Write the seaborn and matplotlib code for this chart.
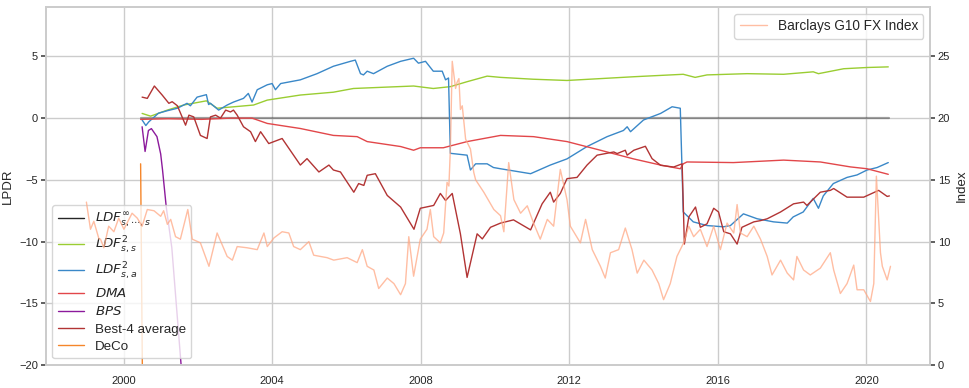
import seaborn as sns
import matplotlib.pyplot as plt

# LPDR series (decimal year, value)
ldf_inf_t = [2000.46, 2020.62]
ldf_inf = [0.0, 0.0]

ldf_ss_t = [2000.50, 2000.73, 2001.18, 2001.62, 2002.23, 2002.52, 2003.50, 2003.87, 2004.76,
            2005.65, 2006.19, 2006.99, 2007.81, 2008.34, 2008.80, 2009.25, 2009.79, 2010.15,
            2011.03, 2011.94, 2012.84, 2013.73, 2015.07, 2015.39, 2015.71, 2016.79, 2017.77,
            2018.57, 2018.71, 2019.39, 2020.02, 2020.59]
ldf_ss = [0.38, 0.16, 0.65, 1.06, 1.4, 0.8, 1.06, 1.46, 1.87,
          2.1, 2.4, 2.5, 2.6, 2.4, 2.55, 2.95, 3.4, 3.3,
          3.15, 3.05, 3.2, 3.35, 3.55, 3.3, 3.5, 3.6, 3.55,
          3.75, 3.6, 4.0, 4.1, 4.15]

ldf_sa_t = [2000.50, 2000.60, 2000.68, 2000.94, 2001.18, 2001.45, 2001.71, 2001.80, 2001.98,
            2002.23, 2002.29, 2002.34, 2002.56, 2002.79, 2002.96, 2003.23, 2003.36, 2003.46,
            2003.60, 2003.87, 2004.00, 2004.09, 2004.23, 2004.76, 2005.21, 2005.65, 2006.11,
            2006.24, 2006.38, 2006.46, 2006.56, 2006.73, 2007.10, 2007.46, 2007.81, 2007.94,
            2008.13, 2008.34, 2008.58, 2008.67, 2008.75, 2008.80, 2009.25, 2009.34, 2009.48,
            2009.79, 2009.96, 2010.15, 2010.96, 2011.49, 2011.94, 2012.48, 2013.02, 2013.46,
            2013.56, 2013.65, 2014.00, 2014.46, 2014.77, 2014.99, 2015.07, 2015.34, 2015.71,
            2016.15, 2016.34, 2016.69, 2017.06, 2017.50, 2017.87, 2018.03, 2018.30, 2018.57,
            2018.71, 2018.84, 2019.11, 2019.48, 2019.75, 2020.02, 2020.29, 2020.59]
ldf_sa = [-0.15, -0.6, -0.3, 0.4, 0.6, 0.8, 1.2, 1.0, 1.7,
          1.9, 1.1, 1.2, 0.65, 1.06, 1.3, 1.6, 2.0, 1.3,
          2.3, 2.7, 2.8, 2.3, 2.8, 3.1, 3.6, 4.2, 4.6,
          4.7, 3.6, 3.5, 3.8, 3.6, 4.2, 4.6, 4.85, 4.45,
          4.6, 3.8, 3.8, 3.1, 3.25, -2.85, -3.0, -4.2, -3.7,
          -3.7, -4.0, -4.1, -4.5, -3.8, -3.3, -2.3, -1.5, -1.0,
          -0.7, -1.1, -0.15, 0.38, 0.92, 0.8, -7.6, -8.4, -8.7,
          -8.8, -8.7, -7.75, -8.15, -8.4, -8.5, -8.0, -7.6, -6.5,
          -7.3, -6.3, -5.3, -4.8, -4.6, -4.2, -4.0, -3.6]

dma_t = [2000.46, 2001.20, 2002.10, 2002.90, 2003.46, 2003.87, 2004.76, 2005.65, 2006.29,
         2006.56, 2007.46, 2007.81, 2007.99, 2008.61, 2009.25, 2010.15, 2011.04, 2011.94,
         2012.84, 2013.73, 2014.46, 2014.99, 2015.07, 2015.17, 2016.42, 2017.77, 2018.76,
         2019.57, 2020.02, 2020.59]
dma = [-0.1, -0.05, -0.1, 0.0, 0.0, -0.43, -0.84, -1.4, -1.5,
       -1.9, -2.3, -2.6, -2.4, -2.4, -1.9, -1.4, -1.5, -1.9,
       -2.6, -3.3, -3.8, -4.1, -3.7, -3.55, -3.6, -3.4, -3.55,
       -3.95, -4.1, -4.55]

bps_t = [2000.50, 2000.58, 2000.67, 2000.75, 2000.90, 2001.00, 2001.05, 2001.15, 2001.30, 2001.55, 2001.62]
bps = [-0.7, -2.7, -1.0, -0.85, -1.5, -2.9, -4.2, -7.2, -10.5, -20.0, -22.0]

best4_t = [2000.50, 2000.64, 2000.83, 2001.04, 2001.22, 2001.31, 2001.45, 2001.67, 2001.76,
           2001.89, 2002.07, 2002.25, 2002.34, 2002.48, 2002.61, 2002.75, 2002.88, 2002.96,
           2003.06, 2003.23, 2003.42, 2003.55, 2003.69, 2003.91, 2004.27, 2004.76, 2004.94,
           2005.26, 2005.53, 2005.65, 2005.84, 2006.20, 2006.33, 2006.47, 2006.56, 2006.78,
           2007.10, 2007.46, 2007.82, 2007.99, 2008.35, 2008.53, 2008.67, 2008.85, 2009.07,
           2009.25, 2009.52, 2009.66, 2009.88, 2010.15, 2010.50, 2010.96, 2011.27, 2011.49,
           2011.58, 2011.76, 2011.94, 2012.21, 2012.48, 2012.75, 2013.20, 2013.29, 2013.51,
           2013.56, 2013.74, 2014.05, 2014.23, 2014.46, 2014.81, 2015.04, 2015.10, 2015.22,
           2015.40, 2015.53, 2015.71, 2015.89, 2016.02, 2016.16, 2016.34, 2016.52, 2016.65,
           2016.97, 2017.15, 2017.33, 2017.69, 2018.04, 2018.31, 2018.40, 2018.76, 2019.03,
           2019.12, 2019.48, 2019.93, 2020.33, 2020.56, 2020.62]
best4 = [1.7, 1.6, 2.6, 1.87, 1.2, 1.33, 1.0, -0.57, 0.24,
         0.1, -1.4, -1.65, 0.1, 0.24, 0.0, 0.65, 0.5, 0.65,
         0.24, -0.7, -1.1, -1.9, -1.1, -2.06, -1.65, -3.8, -3.28,
         -4.36, -3.8, -4.2, -4.36, -6.0, -5.3, -5.45, -4.63, -4.5,
         -6.26, -7.2, -9.0, -7.3, -7.07, -6.1, -6.67, -6.1, -9.37,
         -12.9, -9.37, -9.78, -8.84, -8.5, -8.24, -9.05, -6.94, -6.0,
         -6.8, -6.1, -4.9, -4.8, -3.8, -3.0, -2.74, -2.87, -2.6,
         -3.0, -2.6, -2.28, -3.28, -3.82, -3.96, -3.7, -10.2, -8.0,
         -7.2, -8.84, -8.56, -7.3, -7.6, -9.2, -9.37, -10.2, -8.84,
         -8.4, -8.3, -8.15, -7.6, -6.94, -6.8, -7.07, -6.0, -5.85,
         -5.7, -6.4, -6.4, -5.85, -6.34, -6.3]

deco_t = [2000.46, 2000.52]
deco = [-3.7, -25.0]

# Barclays G10 FX Index (right axis)
fx_t = [1999.00, 1999.11, 1999.20, 1999.34, 1999.38, 1999.47, 1999.60, 1999.74, 1999.87,
        2000.01, 2000.23, 2000.37, 2000.50, 2000.64, 2000.82, 2001.00, 2001.08, 2001.18,
        2001.27, 2001.40, 2001.53, 2001.73, 2001.85, 2002.07, 2002.30, 2002.52, 2002.79,
        2002.93, 2003.06, 2003.33, 2003.60, 2003.78, 2003.87, 2004.05, 2004.27, 2004.45,
        2004.58, 2004.76, 2004.99, 2005.12, 2005.48, 2005.66, 2006.02, 2006.29, 2006.43,
        2006.56, 2006.74, 2006.87, 2007.10, 2007.28, 2007.46, 2007.59, 2007.68, 2007.81,
        2007.99, 2008.17, 2008.26, 2008.35, 2008.53, 2008.62, 2008.71, 2008.76, 2008.80,
        2008.85, 2008.94, 2008.98, 2009.03, 2009.07, 2009.12, 2009.21, 2009.34, 2009.43,
        2009.48, 2009.70, 2009.97, 2010.15, 2010.24, 2010.37, 2010.51, 2010.69, 2010.87,
        2011.04, 2011.22, 2011.41, 2011.58, 2011.76, 2011.94, 2012.03, 2012.30, 2012.44,
        2012.62, 2012.84, 2012.97, 2013.11, 2013.33, 2013.51, 2013.69, 2013.83, 2014.01,
        2014.23, 2014.41, 2014.54, 2014.72, 2014.90, 2015.08, 2015.22, 2015.35, 2015.53,
        2015.71, 2015.89, 2016.07, 2016.25, 2016.43, 2016.52, 2016.61, 2016.79, 2016.97,
        2017.15, 2017.33, 2017.46, 2017.69, 2017.87, 2018.04, 2018.13, 2018.31, 2018.49,
        2018.76, 2019.03, 2019.12, 2019.30, 2019.48, 2019.66, 2019.75, 2019.93, 2020.11,
        2020.20, 2020.27, 2020.38, 2020.43, 2020.56, 2020.65]
fx = [13.2, 11.0, 11.65, 10.2, 10.2, 9.5, 11.25, 10.8, 11.9,
      11.0, 12.3, 11.9, 11.25, 12.6, 12.5, 12.05, 12.5, 11.4,
      11.8, 10.4, 10.2, 12.6, 10.2, 9.9, 8.0, 10.7, 8.8,
      8.5, 9.6, 9.5, 9.35, 10.7, 9.6, 10.3, 10.8, 10.7,
      9.6, 9.35, 10.0, 8.9, 8.7, 8.5, 8.7, 8.3, 9.35,
      8.0, 7.7, 6.2, 7.05, 6.6, 5.7, 6.6, 10.4, 7.2,
      10.2, 11.0, 12.6, 10.4, 9.9, 10.7, 14.8, 14.5, 17.5,
      24.6, 22.4, 22.9, 23.2, 20.7, 21.0, 18.3, 17.5, 15.6,
      15.0, 14.0, 12.6, 12.1, 10.8, 16.4, 13.4, 12.3, 12.9,
      11.5, 10.2, 11.8, 11.25, 15.85, 13.4, 11.25, 9.9, 11.8,
      9.35, 8.0, 7.05, 9.1, 9.35, 11.1, 9.35, 7.45, 8.5,
      7.7, 6.6, 5.3, 6.6, 8.8, 9.9, 11.25, 10.4, 11.0,
      9.6, 11.25, 9.35, 11.5, 10.7, 13.0, 10.7, 10.4, 11.25,
      10.2, 8.8, 7.3, 8.5, 7.45, 6.9, 8.8, 7.7, 7.3,
      7.85, 9.1, 7.7, 5.8, 6.6, 8.1, 6.1, 6.1, 5.15,
      6.6, 15.3, 9.1, 8.0, 6.9, 8.0]

year_ticks = [2000, 2004, 2008, 2012, 2016, 2020]

sns.set_theme(style='whitegrid')
plt.rcParams['font.family'] = ['Liberation Sans', 'DejaVu Sans']

fig, ax = plt.subplots(figsize=(9.69, 3.88), dpi=100)
fig.subplots_adjust(left=0.047, right=0.96, bottom=0.059, top=0.982)

kw = dict(ax=ax, linewidth=1.0, estimator=None, errorbar=None)
sns.lineplot(x=ldf_inf_t, y=ldf_inf, color='black', alpha=0.35, label=r'$LDF^{\infty}_{s,\cdots,s}$',
             ax=ax, linewidth=1.6, estimator=None, errorbar=None)
sns.lineplot(x=ldf_ss_t, y=ldf_ss, color='#9acd32', label=r'$LDF^2_{s,s}$', **kw)
sns.lineplot(x=ldf_sa_t, y=ldf_sa, color='#3a88c8', label=r'$LDF^2_{s,a}$', **kw)
sns.lineplot(x=dma_t, y=dma, color='#e2474a', label=r'$DMA$', **kw)
sns.lineplot(x=bps_t, y=bps, color='#8c1a9c', label=r'$BPS$', **kw)
sns.lineplot(x=best4_t, y=best4, color='#b23434', label='Best-4 average', **kw)
sns.lineplot(x=deco_t, y=deco, color='#f5862a', label='DeCo', **kw)

ax.set_xlim(1997.9, 2021.72)
ax.set_ylim(-20, 9)
ax.set_xticks(year_ticks)
ax.set_xticklabels([str(y) for y in year_ticks])
ax.set_yticks([-20, -15, -10, -5, 0, 5])
ax.set_ylabel('LPDR', fontsize=9.5)
ax.tick_params(axis='both', labelsize=8, pad=2)
ax.tick_params(axis='y', left=True, length=3.5, color='0.3')
leg = ax.legend(loc='lower left', fontsize=9.6, labelspacing=0.38)
leg.legend_handles[0].set_alpha(0.85)
leg.legend_handles[0].set_linewidth(1.0)

ax2 = ax.twinx()
sns.lineplot(x=fx_t, y=fx, color='#ffa884', alpha=0.75, linewidth=1.0, ax=ax2,
             label='Barclays G10 FX Index', estimator=None, errorbar=None)
ax2.set_ylim(0, 29)
ax2.set_yticks([0, 5, 10, 15, 20, 25])
ax2.grid(False)
ax2.set_ylabel('Index', fontsize=9.5)
ax2.tick_params(axis='y', right=True, length=3.5, labelsize=8, pad=2, color='0.3')
ax2.legend(loc='upper right', fontsize=9.8)

plt.savefig('out.png', dpi=100)
